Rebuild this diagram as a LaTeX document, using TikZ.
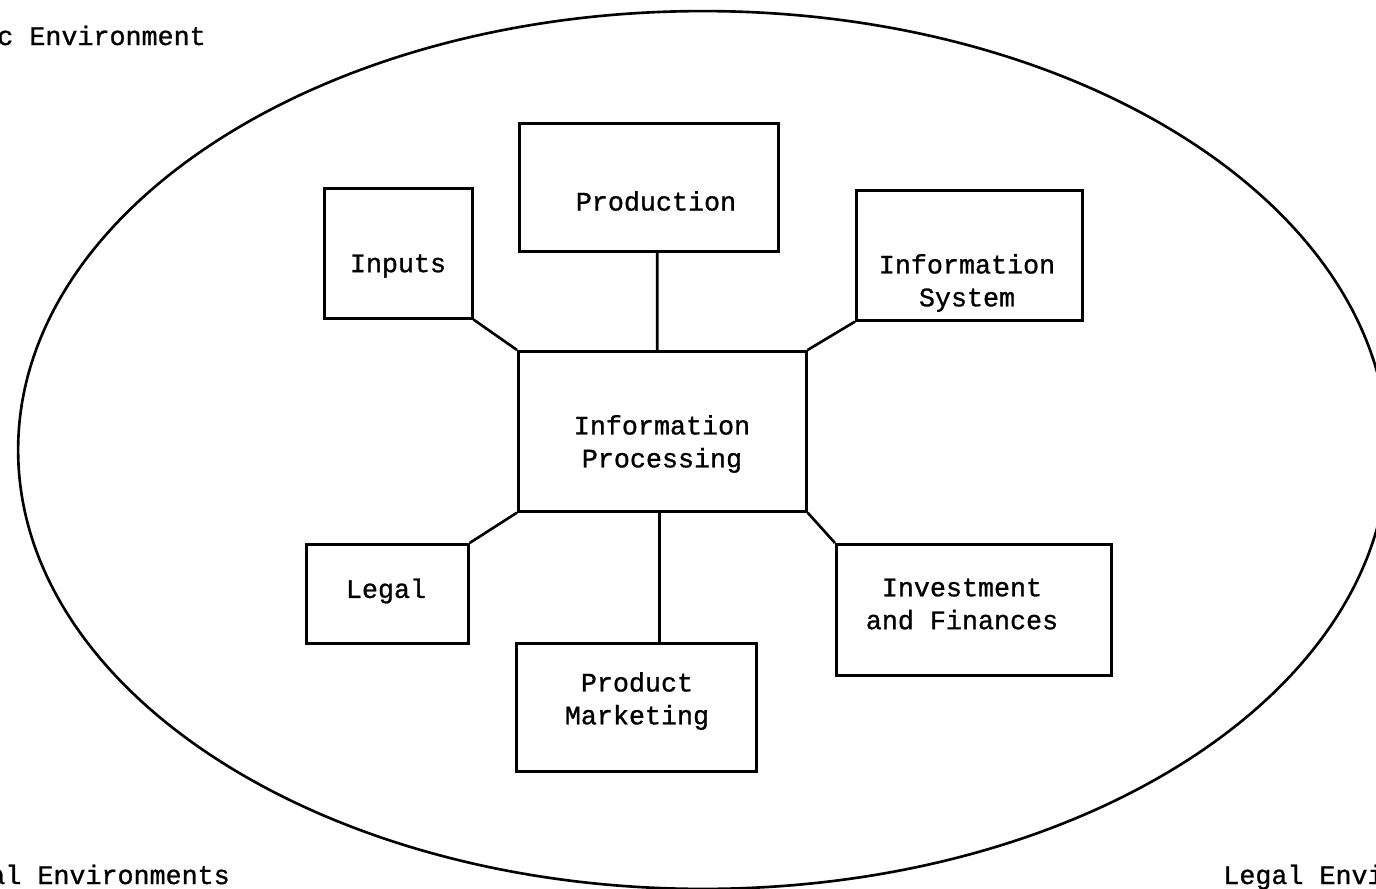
\documentclass[tikz,border=0pt]{standalone}
\usepackage{fontspec}
\setmonofont[FakeBold=1]{Liberation Mono}
\begin{document}
\begin{tikzpicture}[x=0.02cm,y=-0.02cm,
  box/.style={draw,line width=1.5pt,inner sep=0pt,anchor=north west},
  lbl/.style={font=\ttfamily\fontsize{15.2}{18.7}\selectfont,align=center,inner sep=0pt},
  link/.style={line width=1.5pt}]
\useasboundingbox (0,0) rectangle (1376,889);
\clip (0,0) rectangle (1376,889);
% outer ellipse
\draw[line width=1.5pt] (703,450) ellipse [x radius=13.7cm, y radius=8.78cm];
% boxes
\node[box,minimum width=5.18cm,minimum height=2.56cm] (prod) at (518,122) {};
\node[box,minimum width=2.96cm,minimum height=2.60cm] (inp) at (323,187) {};
\node[box,minimum width=4.52cm,minimum height=2.60cm] (isys) at (855,189) {};
\node[box,minimum width=5.76cm,minimum height=3.20cm] (ip) at (517,350) {};
\node[box,minimum width=3.24cm,minimum height=1.98cm] (legal) at (305,543) {};
\node[box,minimum width=5.50cm,minimum height=2.62cm] (inv) at (835,543) {};
\node[box,minimum width=4.80cm,minimum height=2.56cm] (pm) at (515,642) {};
% texts
\node[lbl] (tprod) at (656,201) {Production};
\node[lbl] (tinp) at (398,266) {Inputs};
\node[lbl] (tisys) at (967,283) {Information\\System};
\node[lbl] (tip) at (662,444) {Information\\Processing};
\node[lbl] (tlegal) at (386,591) {Legal};
\node[lbl] (tinv) at (962,604) {Investment\\and Finances};
\node[lbl] (tpm) at (637,701) {Product\\Marketing};
% outer labels
\node[lbl,anchor=base west] (econ) at (-3,45) {c Environment};
\node[lbl,anchor=base west] (soc) at (-11,884) {al Environments};
\node[lbl,anchor=base west] (legenv) at (1223,884) {Legal Envi};
% connectors
\draw[link] ([xshift=0.17cm]prod.south) -- ([xshift=-0.1cm]ip.north);
\draw[link] (inp.south east) -- (ip.north west);
\draw[link] (isys.south west) -- (ip.north east);
\draw[link] (legal.north east) -- (ip.south west);
\draw[link] (inv.north west) -- (ip.south east);
\draw[link] ([xshift=-0.06cm]ip.south) -- ([xshift=-0.06cm]ip.south |- pm.north);
\end{tikzpicture}
\end{document}
